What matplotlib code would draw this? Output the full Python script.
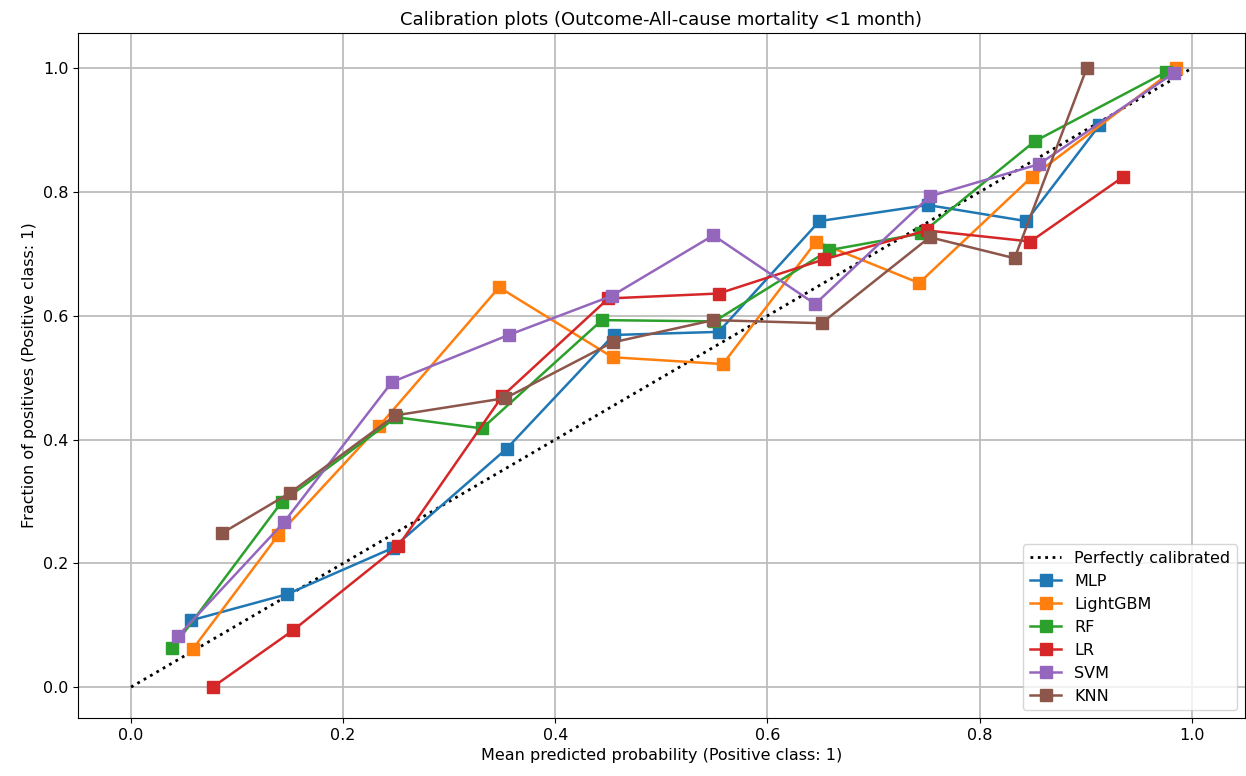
import numpy as np
import matplotlib
matplotlib.use("Agg")
import matplotlib.pyplot as plt

# calibration curves (mean predicted prob, fraction of positives)
mlp_x = [0.057, 0.147, 0.247, 0.354, 0.455, 0.554, 0.649, 0.751, 0.844, 0.913]
mlp_y = [0.108, 0.150, 0.225, 0.385, 0.569, 0.574, 0.753, 0.779, 0.753, 0.908]

lgbm_x = [0.058, 0.139, 0.234, 0.347, 0.454, 0.558, 0.646, 0.743, 0.849, 0.985]
lgbm_y = [0.061, 0.246, 0.422, 0.646, 0.533, 0.522, 0.720, 0.653, 0.824, 1.0]

rf_x = [0.039, 0.142, 0.250, 0.331, 0.444, 0.550, 0.658, 0.745, 0.852, 0.976]
rf_y = [0.063, 0.299, 0.436, 0.418, 0.593, 0.591, 0.706, 0.733, 0.882, 0.994]

lr_x = [0.077, 0.153, 0.252, 0.350, 0.450, 0.554, 0.653, 0.750, 0.848, 0.935]
lr_y = [0.0, 0.092, 0.228, 0.470, 0.628, 0.636, 0.691, 0.738, 0.720, 0.824]

svm_x = [0.044, 0.144, 0.246, 0.356, 0.453, 0.549, 0.645, 0.753, 0.856, 0.983]
svm_y = [0.082, 0.266, 0.493, 0.569, 0.632, 0.730, 0.619, 0.793, 0.845, 0.992]

knn_x = [0.086, 0.150, 0.249, 0.353, 0.454, 0.549, 0.651, 0.753, 0.833, 0.901]
knn_y = [0.249, 0.314, 0.439, 0.467, 0.557, 0.593, 0.588, 0.727, 0.693, 1.0]

models = [("MLP", mlp_x, mlp_y), ("LightGBM", lgbm_x, lgbm_y), ("RF", rf_x, rf_y),
          ("LR", lr_x, lr_y), ("SVM", svm_x, svm_y), ("KNN", knn_x, knn_y)]

plt.rcParams['font.size'] = 11.5

fig = plt.figure(figsize=(12.46, 7.76), dpi=100)
ax = fig.add_axes([0.0626, 0.0747, 0.9364, 0.8828])

ax.plot([0, 1], [0, 1], "k:", lw=2.0, label="Perfectly calibrated")
for name, xs, ys in models:
    ax.plot(xs, ys, "s-", lw=1.8, ms=8, label=name)

ax.set_xlim(-0.05, 1.05)
ax.set_ylim(-0.05, 1.057)
ax.grid(True, color="#bdbdbd", lw=1.3)
ax.set_xlabel("Mean predicted probability (Positive class: 1)")
ax.set_ylabel("Fraction of positives (Positive class: 1)")
ax.set_title("Calibration plots (Outcome-All-cause mortality <1 month)", fontsize=13)
ax.legend(loc="lower right", fontsize=11.5)

fig.savefig("out.png", dpi=100)
